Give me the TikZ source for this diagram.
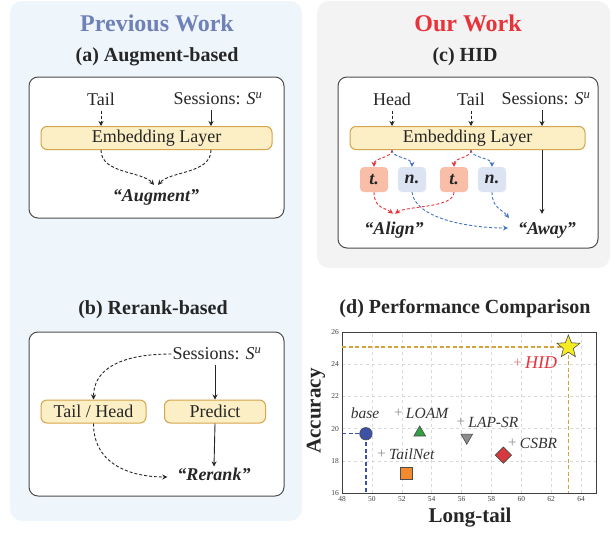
\documentclass[tikz,border=0pt]{standalone}
\usepackage{fontspec}
\setmainfont{Liberation Serif}
\usetikzlibrary{positioning,shapes.geometric,arrows.meta}
\definecolor{panelblue}{HTML}{EEF6FC}
\definecolor{panelgray}{HTML}{F3F3F3}
\definecolor{prevcol}{HTML}{7080B8}
\definecolor{ourred}{HTML}{E8333A}
\definecolor{layerfill}{HTML}{FCEFC5}
\definecolor{layerdraw}{HTML}{D5A54A}
\definecolor{tfill}{HTML}{F8BEA8}
\definecolor{nfill}{HTML}{DCE3F3}
\definecolor{arrblue}{HTML}{4472C4}
\definecolor{goldline}{HTML}{D6A23C}
\definecolor{basecol}{HTML}{3D51A5}
\definecolor{loamcol}{HTML}{33A043}
\definecolor{tailnetcol}{HTML}{F28A30}
\definecolor{csbrcol}{HTML}{D63A3E}
\definecolor{starcol}{HTML}{F6EC22}
\newcommand{\bodyfont}{\fontsize{18}{18}\selectfont}
\newcommand{\sessu}{Sessions: \textit{S}\textsuperscript{\textit{u}}}
\tikzset{
  frame/.style={draw=black!70,fill=white,rounded corners=9pt,line width=1pt},
  layer/.style={draw=layerdraw,fill=layerfill,rounded corners=6pt,line width=1pt,
    inner sep=0pt,minimum height=23pt,font=\bodyfont,text=black!85},
  body/.style={font=\bodyfont,text=black!85,inner sep=1pt},
  bi/.style={font=\bodyfont\bfseries\itshape,text=black!85,inner sep=1pt},
  bigtitle/.style={font=\fontsize{24}{24}\selectfont\bfseries},
  subtitle/.style={font=\fontsize{20}{20}\selectfont\bfseries,text=black!85},
  tbox/.style={fill=tfill,rounded corners=4pt,minimum width=28pt,minimum height=25pt,
    inner sep=0pt,font=\bodyfont\bfseries\itshape,text=black!85},
  nbox/.style={tbox,fill=nfill},
  dsh/.style={dash pattern=on 3pt off 2pt},
  blkarr/.style={-{Stealth[length=5pt,width=5pt]},line width=0.9pt,black!85},
  redarr/.style={blkarr,dsh,ourred},
  bluearr/.style={blkarr,dsh,arrblue},
  gridline/.style={gray!30,dashed,line width=0.4pt},
  ticklbl/.style={font=\fontsize{7.5}{7.5}\selectfont,text=black!75,inner sep=1pt},
  axtitle/.style={font=\fontsize{21}{21}\selectfont\bfseries,text=black!85},
  plus/.style={font=\fontsize{15}{15}\selectfont,text=gray!90,inner sep=0pt},
  plbl/.style={font=\fontsize{15.5}{15.5}\selectfont\itshape,text=black!80,inner sep=0pt},
  mark edge/.style={draw=black!70,line width=0.6pt,inner sep=0pt}
}
\begin{document}
\begin{tikzpicture}[x=1pt,y=-1pt]
\useasboundingbox (0,0) rectangle (611,533);
\fill[panelblue,rounded corners=12pt] (10,1) rectangle (302,521);
\fill[panelgray,rounded corners=12pt] (317,1) rectangle (610,268);
\node[bigtitle,text=prevcol] (prevT) at (157,23) {Previous Work};
\node[bigtitle,text=ourred] (ourT) at (468,23) {Our Work};

\node[subtitle] (titA) at (157,57) {(a) Augment-based};
\draw[frame] (29,77) rectangle (284,218);
\node[layer,minimum width=231pt] (embA) at (156.5,138) {Embedding Layer};
\node[body] (tailA) at (101,99) {Tail};
\node[body] (sessA) at (218,99) {\sessu};
\node[bi] (augA) at (156,197) {“Augment”};
\coordinate (sA) at ([xshift=-7pt]sessA.south);
\coordinate (augL) at ([xshift=-2pt,yshift=3pt]augA.north);
\coordinate (augR) at ([xshift=2pt,yshift=3pt]augA.north);
\draw[blkarr,dsh] ([yshift=-4pt]tailA.south) -- (tailA |- embA.north);
\draw[blkarr] ([yshift=-4pt]sA) -- (sA |- embA.north);
\draw[blkarr,dsh] (tailA |- embA.south) .. controls +(0,24) and +(-12,-14) .. (augL);
\draw[blkarr,dsh] (sA |- embA.south) .. controls +(0,24) and +(12,-14) .. (augR);

\node[subtitle] (titB) at (153,310) {(b) Rerank-based};
\draw[frame] (29,332) rectangle (284,496);
\node[body] (sessB) at (217,354) {\sessu};
\node[layer,minimum width=105pt] (tailhead) at (93.5,411.5) {Tail / Head};
\node[layer,minimum width=101pt] (predict) at (215,411.5) {Predict};
\node[bi] (rerank) at (214,474) {“Rerank”};
\coordinate (rerankW) at ([xshift=-9pt,yshift=-3pt]rerank.west);
\draw[blkarr,dsh] (sessB.west) .. controls +(-55,0) and +(0,-28) .. (tailhead.north);
\draw[blkarr] ([yshift=-4pt]sessB.south -| predict) -- (predict.north);
\draw[blkarr] (predict.south) -- (rerank.north);
\draw[blkarr,dsh] (tailhead.south) .. controls +(0,42) and +(-35,0) .. (rerankW);

\node[subtitle] (titC) at (465,57) {(c) HID};
\draw[frame] (338,77) rectangle (598,248);
\node[layer,minimum width=235pt] (embC) at (467.5,138) {Embedding Layer};
\node[body] (headC) at (392,99) {Head};
\node[body] (tailC) at (471,99) {Tail};
\node[body] (sessC) at (546,99) {\sessu};
\node[tbox] (t1) at (374,179.5) {t.};
\node[nbox] (n1) at (412,179.5) {n.};
\node[tbox] (t2) at (454,179.5) {t.};
\node[nbox] (n2) at (492,179.5) {n.};
\node[bi] (align) at (394,230) {“Align”};
\node[bi] (away) at (547,230) {“Away”};
\coordinate (sC) at ([xshift=-4pt]sessC.south);
\coordinate (hS) at (headC |- embC.south);
\coordinate (tS) at (tailC |- embC.south);
\coordinate (alignTop) at ([yshift=7pt]align.north);
\coordinate (awayW) at ([xshift=-9pt,yshift=2pt]away.west);
\coordinate (awayNW) at ([xshift=-8pt,yshift=12pt]away.west);
\coordinate (awayTop) at ([yshift=7pt]away.north);
\draw[blkarr,dsh] ([yshift=-4pt]headC.south) -- (headC |- embC.north);
\draw[blkarr,dsh] ([yshift=-4pt]tailC.south) -- (tailC |- embC.north);
\draw[blkarr] ([yshift=-4pt]sC) -- (sC |- embC.north);
\draw[blkarr] (sC |- embC.south) -- (sC |- awayTop);
\draw[redarr] (hS) .. controls +(0,8) and +(0,-9) .. (t1.north);
\draw[bluearr] (hS) .. controls +(0,8) and +(0,-9) .. (n1.north);
\draw[redarr] (tS) .. controls +(0,8) and +(0,-9) .. (t2.north);
\draw[bluearr] (tS) .. controls +(0,8) and +(0,-9) .. (n2.north);
\draw[redarr] (t1.south) .. controls +(0,16) and +(-8,-6) .. ([xshift=-1pt]alignTop);
\draw[redarr] (t2.south) .. controls +(0,16) and +(12,-8) .. ([xshift=1pt]alignTop);
\draw[bluearr] (n1.south) .. controls +(3,26) and +(-40,0) .. (awayW);
\draw[bluearr] (n2.south) .. controls +(0,16) and +(-7,-9) .. (awayNW);

\node[subtitle] (titD) at (465,309) {(d) Performance Comparison};
\begin{scope}[shift={(-375.1,750.6)},x=14.94pt,y=16.1pt]
\foreach \gx in {48,50,...,64}{
  \draw[gridline] (\gx,16) -- (\gx,26);
  \node[ticklbl,below=2pt] at (\gx,16) {\gx};
}
\foreach \gy in {16,18,...,26}{
  \draw[gridline] (48,\gy) -- (65,\gy);
  \node[ticklbl,left=2pt] at (48,\gy) {\gy};
}
\draw[black!75,line width=0.9pt] (48,16) rectangle (65,26);
\draw[basecol,dash pattern=on 4pt off 2.5pt,line width=1.3pt] (48,19.68) -| (49.6,16);
\draw[goldline,dash pattern=on 4pt off 2.5pt,line width=1.3pt] (48,25.07) -| (63.15,16);
\node[mark edge,circle,fill=basecol,minimum size=12.5pt] (mbase) at (49.6,19.68) {};
\node[mark edge,fill=tailnetcol,minimum size=12pt] (mtailnet) at (52.3,17.2) {};
\node[mark edge,regular polygon,regular polygon sides=3,fill=loamcol,minimum size=13.5pt] (mloam) at (53.2,19.75) {};
\node[mark edge,regular polygon,regular polygon sides=3,shape border rotate=180,fill=gray!90,minimum size=13.5pt] (mlapsr) at (56.35,19.45) {};
\node[mark edge,diamond,fill=csbrcol,minimum width=16.5pt,minimum height=16.5pt] (mcsbr) at (58.8,18.35) {};
\node[mark edge,star,star points=5,star point ratio=2.3,fill=starcol,minimum size=24pt] (mhid) at (63.15,25.07) {};
\node[plbl] (lbase) at (49.54,20.93) {base};
\node[plus] (ploam) at (51.77,20.97) {+};
\node[plbl,right=3pt of ploam] (lloam) {LOAM};
\node[plus] (ptailnet) at (50.65,18.4) {+};
\node[plbl,right=3pt of ptailnet] (ltailnet) {TailNet};
\node[plus] (plapsr) at (55.95,20.4) {+};
\node[plbl,right=3pt of plapsr] (llapsr) {LAP-SR};
\node[plus] (pcsbr) at (59.4,19.1) {+};
\node[plbl,right=3pt of pcsbr] (lcsbr) {CSBR};
\node[plus,text=ourred!70] (phid) at (59.75,24.07) {+};
\node[plbl,right=3pt of phid,text=ourred,font=\fontsize{18}{18}\selectfont\itshape] (lhid) {HID};
\end{scope}
\node[axtitle] (xlab) at (470,518) {Long-tail};
\node[axtitle,rotate=90] (ylab) at (316,411) {Accuracy};
\end{tikzpicture}
\end{document}
